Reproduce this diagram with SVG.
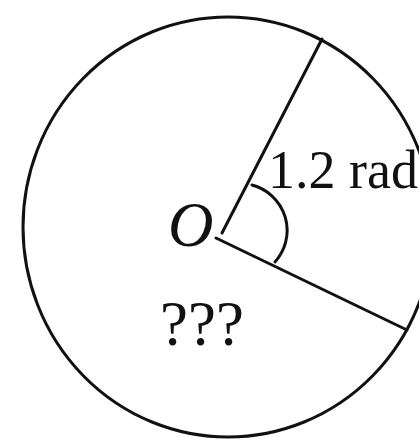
<svg xmlns="http://www.w3.org/2000/svg" width="419" height="440" viewBox="0 0 419 440">
<style>
.s{fill:none;stroke:#111;stroke-width:3;stroke-linecap:round}
.t{font-family:"Liberation Serif","Times New Roman",serif;fill:#111}
</style>
<rect width="419" height="440" fill="#fff"/>
<g id="circle">
<ellipse class="s" cx="228" cy="227" rx="205" ry="210"/>
</g>
<g id="connectors">
<line class="s" x1="222" y1="233" x2="322" y2="39"/>
<line class="s" x1="216" y1="238" x2="407" y2="330"/>
<path id="angle-arc" class="s" d="M252,185 A47,47 0 0 1 275,262"/>
</g>
<g id="label-O"><text class="t" x="168" y="246" font-size="63" font-style="italic">O</text></g>
<g id="label-angle"><text class="t" x="268" y="188" font-size="54">1.2 rad</text></g>
<g id="label-unknown"><text class="t" x="160" y="345" font-size="63">???</text></g>
</svg>
